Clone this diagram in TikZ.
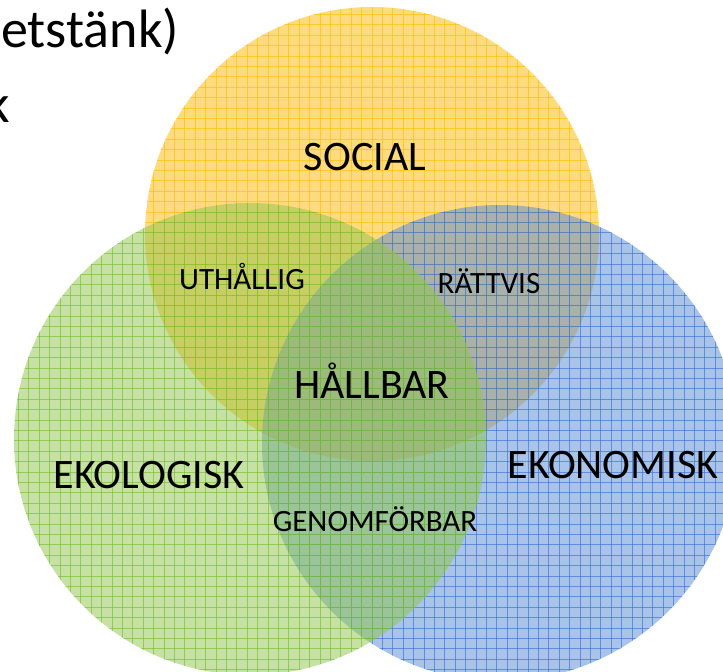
\documentclass[tikz,border=0pt]{standalone}
\usepackage{fontspec}
\setmainfont{Carlito}
\definecolor{yfill}{RGB}{255,185,0}
\definecolor{yline}{RGB}{255,190,0}
\definecolor{gfill}{RGB}{145,197,75}
\definecolor{gline}{RGB}{115,192,45}
\definecolor{bfill}{RGB}{85,137,213}
\definecolor{bline}{RGB}{55,115,215}
\newcommand\venncircle[5]{%
  \fill[#4, fill opacity=0.5] (#1,#2) circle[radius=#3];
  \begin{scope}
    \clip (#1,#2) circle[radius=#3];
    \foreach \gx in {8,18.4,...,730} \draw[#5, line width=1pt, draw opacity=0.65] (\gx,0) -- (\gx,672);
    \foreach \gy in {4,14.4,...,680} \draw[#5, line width=1pt, draw opacity=0.65] (0,\gy) -- (723,\gy);
  \end{scope}}
\begin{document}
\begin{tikzpicture}[x=1pt,y=-1pt,
  biglabel/.style={font=\fontsize{42}{50}\selectfont, anchor=base, inner sep=0pt, text=black},
  smalllabel/.style={font=\fontsize{31}{37}\selectfont, anchor=base, inner sep=0pt, text=black},
  toptext/.style={font=\fontsize{54}{62}\selectfont, inner sep=0pt, text=black}]
\fill[white] (0,0) rectangle (723,672);
\useasboundingbox (0,0) rectangle (723,672);
% circles: social (yellow), ekonomisk (blue), ekologisk (green)
\venncircle{372}{234}{227}{yfill}{yline}
\venncircle{500}{443}{238}{bfill}{bline}
\venncircle{250}{439}{236}{gfill}{gline}
% labels
\node[biglabel] (social) at (365,170) {SOCIAL};
\node[smalllabel] (uthallig) at (242,289) {UTHÅLLIG};
\node[smalllabel] (rattvis) at (489,293) {RÄTTVIS};
\node[biglabel] (hallbar) at (372,398) {HÅLLBAR};
\node[biglabel] (ekologisk) at (149,488) {EKOLOGISK};
\node[biglabel] (ekonomisk) at (613,478) {EKONOMISK};
\node[smalllabel] (genom) at (375,531) {GENOMFÖRBAR};
% partly visible text at top left
\node[toptext, anchor=base west] (top1) at (1,47) {etstänk)};
\node[toptext, anchor=base east] (top2) at (10,122) {k};
\end{tikzpicture}
\end{document}
